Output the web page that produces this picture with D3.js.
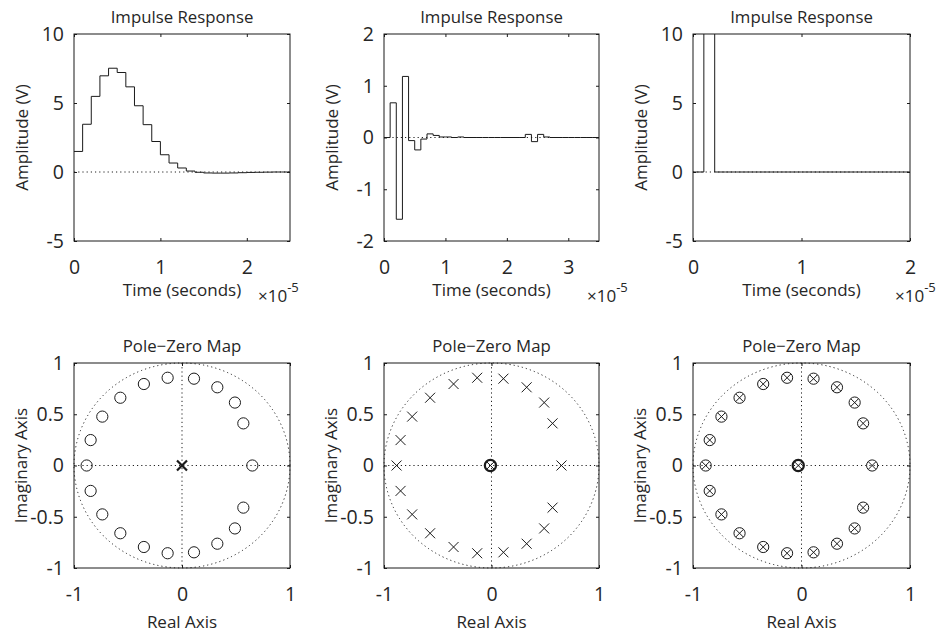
<!DOCTYPE html>
<html><head><meta charset="utf-8">
<script src="https://cdn.jsdelivr.net/npm/d3@7/dist/d3.min.js"></script>
<style>
body{margin:0;background:#fff}
text{font-family:"Open Sans",sans-serif;fill:#262626}
</style>
</head><body>
<svg id="c" width="945" height="634"></svg>
<script>
// ---------------- data ----------------
const sampleTime = 1e-6;
const impulseTitle = "Impulse Response";
const pzTitle = "Pole\u2212Zero Map";
const impulseYLabel = "Amplitude (V)";
const impulseXLabel = "Time (seconds)";
const pzYLabel = "Imaginary Axis";
const pzXLabel = "Real Axis";

const h1 = [1.49,3.46,5.48,6.97,7.52,7.21,6.17,4.80,3.43,2.21,1.25,0.65,0.29,0.07,-0.02,-0.07,-0.08,-0.08,-0.07,-0.05,-0.03,-0.02,-0.01,0,0];
const h2 = [0,0.67,-1.58,1.18,-0.06,-0.24,-0.03,0.07,0.04,0.01,0.01,0,0.01,0,0,0,0,0,0,0,0,0,0,0.06,-0.08,0.06,0.01,0,0,0,0,0,0,0,0];
const h3 = [0,1000000,0,0,0,0,0,0,0,0,0,0,0,0,0,0,0,0,0,0];

const xMax = [2.5e-5, 3.5e-5, 2e-5];
const xTicks1 = [0,1,2], xTicks2 = [0,1,2,3], xTicks3 = [0,1,2];   // ×10^-5
const yDom1 = [-5,10], yDom2 = [-2,2], yDom3 = [-5,10];
const yTicks1 = [-5,0,5,10], yTicks2 = [-2,-1,0,1,2], yTicks3 = [-5,0,5,10];

const pzTicks = [-1,-0.5,0,0.5,1];
const pzXTicks = [-1,0,1];
const ringRe = [0.651,0.568,0.490,0.327,0.111,-0.133,-0.353,-0.571,-0.738,-0.846,-0.883,-0.846,-0.738,-0.571,-0.353,-0.133,0.111,0.327,0.490,0.568];
const ringIm = [0,0.411,0.614,0.763,0.847,0.856,0.795,0.661,0.477,0.248,0,-0.248,-0.477,-0.661,-0.795,-0.856,-0.847,-0.763,-0.614,-0.411];
const originRe = [0, -0.01, -0.03];

// ---------------- layout ----------------
const svg = d3.select("#c");
const cols = [{l:74,r:290},{l:384,r:599},{l:693,r:910}];
const topRow = {t:34,b:241}, botRow = {t:363,b:568};
const expX = [258, 587, 895];
const ink = "#1a1a1a";
const tickFont = "19.5px", titleFont = "16.8px", labFont = "17px";

function frame(g, x, y, xt, yt, xfmt, yfmt, w, h) {
  g.append("rect").attr("width", w).attr("height", h).attr("fill", "#fff");
  const bx = g.append("g").attr("transform", `translate(0,${h})`)
    .call(d3.axisBottom(x).tickValues(xt).tickSize(-3).tickPadding(19).tickFormat(xfmt));
  const tx = g.append("g").call(d3.axisTop(x).tickValues(xt).tickSize(-3).tickFormat(""));
  const ly = g.append("g").call(d3.axisLeft(y).tickValues(yt).tickSize(-3).tickPadding(10).tickFormat(yfmt));
  const ry = g.append("g").attr("transform", `translate(${w},0)`)
    .call(d3.axisRight(y).tickValues(yt).tickSize(-3).tickFormat(""));
  [bx,tx,ly,ry].forEach(a => {
    a.select(".domain").remove();
    a.selectAll("line").attr("stroke", ink);
    a.selectAll("text").style("font-size", tickFont).attr("fill", "#262626").style("font-family", '"Open Sans",sans-serif');
  });
}

function box(g, w, h) {
  g.append("rect").attr("width", w).attr("height", h).attr("fill", "none").attr("stroke", ink).attr("stroke-width", 1);
}

const dotStroke = "#222", dotDash = "1.2,3";

// ---------- impulse panels ----------
const hs = [h1,h2,h3];
const xts = [xTicks1,xTicks2,xTicks3];
const yds = [yDom1,yDom2,yDom3];
const yts = [yTicks1,yTicks2,yTicks3];

hs.forEach((h, i) => {
  const c = cols[i];
  const w = c.r - c.l, hh = topRow.b - topRow.t;
  const g = svg.append("g").attr("transform", `translate(${c.l},${topRow.t})`);
  const x = d3.scaleLinear().domain([0, xMax[i]]).range([0, w]);
  const y = d3.scaleLinear().domain(yds[i]).range([hh, 0]);
  frame(g, x, y, xts[i].map(v => v * 1e-5), yts[i], (d, k) => String(xts[i][k]), d => String(d), w, hh);
  const cid = "clip" + i;
  g.append("clipPath").attr("id", cid).append("rect").attr("width", w).attr("height", hh);
  g.append("line").attr("x1", 0).attr("x2", w).attr("y1", y(0)).attr("y2", y(0))
    .attr("stroke", dotStroke).attr("stroke-dasharray", dotDash);
  const pts = h.map((v, k) => [k * sampleTime, v]);
  pts.push([h.length * sampleTime, h[h.length - 1]]);
  const line = d3.line().x(d => x(d[0])).y(d => y(d[1])).curve(d3.curveStepAfter);
  g.append("path").attr("d", line(pts)).attr("fill", "none").attr("stroke", ink)
    .attr("stroke-width", 1).attr("clip-path", `url(#${cid})`);
  box(g, w, hh);
  g.append("text").attr("x", w / 2).attr("y", -11).attr("text-anchor", "middle")
    .style("font-size", titleFont).text(impulseTitle);
  g.append("text").attr("x", w / 2).attr("y", hh + 55).attr("text-anchor", "middle")
    .style("font-size", labFont).text(impulseXLabel);
  g.append("text").attr("transform", `translate(-46,${hh / 2}) rotate(-90)`).attr("text-anchor", "middle")
    .style("font-size", labFont).text(impulseYLabel);
  const ex = svg.append("text").attr("x", expX[i]).attr("y", 302).style("font-size", "17px");
  ex.append("tspan").text("\u00d710");
  ex.append("tspan").attr("dy", -10).style("font-size", "13px").text("-5");
});

// ---------- pole-zero panels ----------
const markerKinds = [
  {ring: "o", origin: "x"},
  {ring: "x", origin: "ox"},
  {ring: "ox", origin: "ox"}
];
function drawMarker(g, px, py, kind, bold) {
  const sw = bold ? 2.2 : 1;
  if (kind.includes("o")) {
    g.append("circle").attr("cx", px).attr("cy", py).attr("r", 5.6)
      .attr("fill", "none").attr("stroke", ink).attr("stroke-width", sw);
  }
  if (kind.includes("x")) {
    const s = kind === "x" ? 5 : 3.8;
    g.append("path").attr("d", `M${px-s},${py-s}L${px+s},${py+s}M${px-s},${py+s}L${px+s},${py-s}`)
      .attr("stroke", ink).attr("stroke-width", kind === "x" && bold ? 2.2 : 1).attr("fill", "none");
  }
}

markerKinds.forEach((mk, i) => {
  const c = cols[i];
  const w = c.r - c.l, hh = botRow.b - botRow.t;
  const g = svg.append("g").attr("transform", `translate(${c.l},${botRow.t})`);
  const x = d3.scaleLinear().domain([-1, 1]).range([0, w]);
  const y = d3.scaleLinear().domain([-1, 1]).range([hh, 0]);
  frame(g, x, y, pzXTicks, pzTicks, d => String(d), d => String(d), w, hh);
  g.append("ellipse").attr("cx", x(0)).attr("cy", y(0)).attr("rx", x(1) - x(0)).attr("ry", y(0) - y(1))
    .attr("fill", "none").attr("stroke", dotStroke).attr("stroke-dasharray", dotDash);
  g.append("line").attr("x1", 0).attr("x2", w).attr("y1", y(0)).attr("y2", y(0))
    .attr("stroke", dotStroke).attr("stroke-dasharray", dotDash);
  g.append("line").attr("x1", x(0)).attr("x2", x(0)).attr("y1", 0).attr("y2", hh)
    .attr("stroke", dotStroke).attr("stroke-dasharray", dotDash);
  ringRe.forEach((re, k) => drawMarker(g, x(re), y(ringIm[k]), mk.ring, false));
  drawMarker(g, x(originRe[i]), y(0), mk.origin, true);
  box(g, w, hh);
  g.append("text").attr("x", w / 2).attr("y", -11).attr("text-anchor", "middle")
    .style("font-size", titleFont).text(pzTitle);
  g.append("text").attr("x", w / 2).attr("y", hh + 60).attr("text-anchor", "middle")
    .style("font-size", labFont).text(pzXLabel);
  g.append("text").attr("transform", `translate(-47,${hh / 2}) rotate(-90)`).attr("text-anchor", "middle")
    .style("font-size", labFont).text(pzYLabel);
});
</script>
</body></html>
